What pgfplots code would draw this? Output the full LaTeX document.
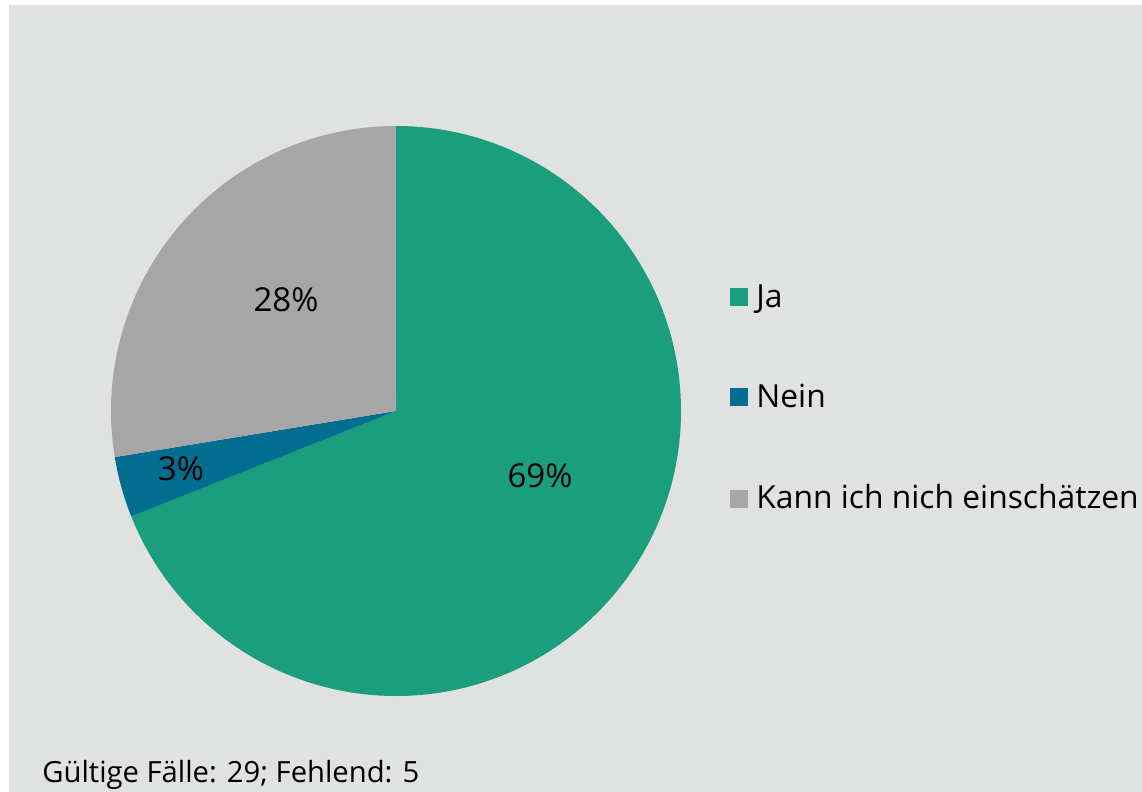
\documentclass[border=0pt]{standalone}
\usepackage{pgfplots}
\pgfplotsset{compat=1.18}
\usepackage{fontspec}
\setmainfont{Open Sans}

\definecolor{bgpanel}{HTML}{E0E2E1}
\definecolor{cja}{HTML}{1A9E7E}
\definecolor{cnein}{HTML}{016D8F}
\definecolor{ckann}{HTML}{A6A6A6}

\begin{document}
\begin{tikzpicture}
\begin{axis}[
    width=571pt, height=396pt, scale only axis,
    xmin=0, xmax=1142, ymin=0, ymax=792, y dir=reverse,
    hide axis, clip=false,
]
% panel
\path (axis cs:0,0) rectangle (axis cs:1142,792);
\fill[bgpanel] (axis cs:9,5) rectangle (axis cs:1142,792);

% pie: counts out of 29 valid cases, clockwise from the top
\pgfplotsextra{
  \def\pieR{142.5pt}
  \gdef\pieA{90}
  \foreach \n/\c in {20/cja, 1/cnein, 8/ckann}{
    \pgfmathsetmacro\pieB{\pieA-\n/29*360}
    \fill[\c] (axis cs:396,411) -- ++(\pieA:\pieR)
        arc[start angle=\pieA, end angle=\pieB, radius=\pieR] -- cycle;
    \global\let\pieA\pieB
  }
}

% slice labels
\node[font=\fontsize{16.5}{20}\selectfont] at (axis cs:286,300) {28\%};
\node[font=\fontsize{16.5}{20}\selectfont] at (axis cs:181,469) {3\%};
\node[font=\fontsize{16.5}{20}\selectfont] at (axis cs:540,476) {69\%};

% legend
\fill[cja]   (axis cs:730,288) rectangle (axis cs:748,306);
\fill[cnein] (axis cs:730,388) rectangle (axis cs:748,406);
\fill[ckann] (axis cs:730,490) rectangle (axis cs:748,508);
\node[anchor=base west, inner sep=0pt, font=\fontsize{15.9}{19}\selectfont] at (axis cs:756,307) {Ja};
\node[anchor=base west, inner sep=0pt, font=\fontsize{15.9}{19}\selectfont] at (axis cs:756,408) {Nein};
\node[anchor=base west, inner sep=0pt, font=\fontsize{15.9}{19}\selectfont] at (axis cs:756,508) {Kann ich nich einschätzen};

% note
\node[anchor=base west, inner sep=0pt, font=\fontsize{14.6}{18}\selectfont] at (axis cs:42,782) {Gültige Fälle: 29; Fehlend: 5};
\end{axis}
\end{tikzpicture}
\end{document}
